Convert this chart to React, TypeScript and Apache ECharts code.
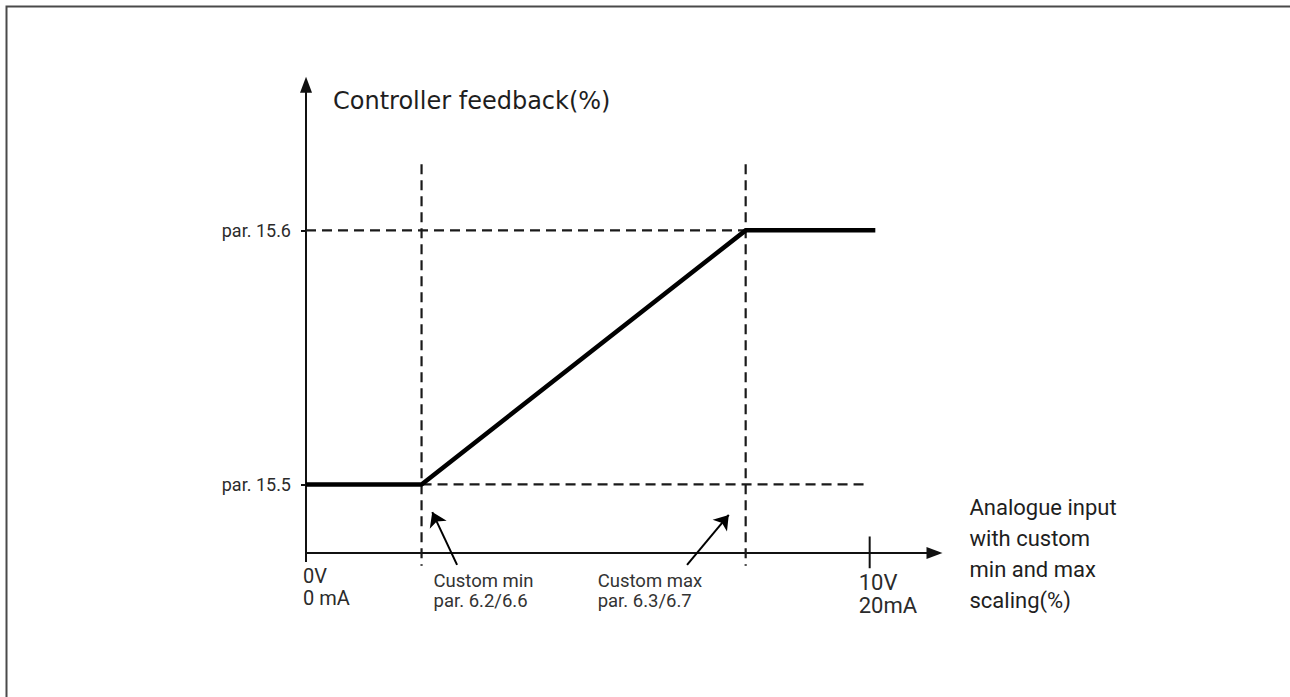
import React, { useEffect, useRef } from "react";
import * as echarts from "echarts";

// Axis ranges (abstract units: x = % of input range, y = % between par. 15.5 and par. 15.6)
const X_MIN = 0;
const X_MAX = 111.5;
const Y_MIN = -27;
const Y_MAX = 157.3;

// Key points
const customMin = 20.5;
const customMax = 78;
const fullScale = 100;
const lowLevel = 0;
const highLevel = 100;

// Feedback curve
const curveX = [0, customMin, customMax, 101];
const curveY = [lowLevel, lowLevel, highLevel, highLevel];

// Guides
const guideTop = 126;
const guideBottom = -32;
const lowGuideEnd = 99;

// Tick values & labels
const yTickValues = [lowLevel, highLevel];
const yTickLabels = ["par. 15.5", "par. 15.6"];
const xTickValues = [0, fullScale];
const xTickLabels = [
  ["0V", "0 mA"],
  ["10V", "20mA"],
];

// Annotation arrows [tail, tip]
const minArrow = [
  [26.8, -31.7],
  [22.4, -10.9],
];
const maxArrow = [
  [67.6, -31.7],
  [75.0, -12.0],
];

const yTitle = "Controller feedback(%)";
const xTitle = ["Analogue input", "with custom", "min and max", "scaling(%)"];
const minNote = ["Custom min", "par. 6.2/6.6"];
const maxNote = ["Custom max", "par. 6.3/6.7"];

const FONT = "Roboto, 'Noto Sans', sans-serif";
const TITLE_FONT = "'DejaVu Sans', Roboto, sans-serif";

export default function App() {
  const ref = useRef<HTMLDivElement>(null);

  useEffect(() => {
    const chart = echarts.init(ref.current!, null, { renderer: "svg" });
    const axisColor = "#111111";
    const dashColor = "#1a1a1a";

    const seg = (name: string, pts: number[][], style: any, z = 2) => ({
      type: "line",
      name,
      data: pts,
      symbol: "none",
      clip: false,
      silent: true,
      z,
      lineStyle: style,
    });

    const dashStyle = { color: dashColor, width: 2.2, type: [10, 6] };
    const tickStyle = { color: axisColor, width: 2 };

    const option: any = {
      animation: false,
      backgroundColor: "#ffffff",
      grid: { left: 306, top: 84.8, width: 628.5, height: 468.2 },
      xAxis: {
        type: "value",
        min: X_MIN,
        max: X_MAX,
        axisLine: {
          onZero: false,
          symbol: ["none", "triangle"],
          symbolSize: [12, 16],
          lineStyle: { color: axisColor, width: 2 },
        },
        axisTick: { show: false },
        axisLabel: { show: false },
        splitLine: { show: false },
      },
      yAxis: {
        type: "value",
        min: Y_MIN,
        max: Y_MAX,
        axisLine: {
          onZero: false,
          symbol: ["none", "triangle"],
          symbolSize: [12, 16],
          lineStyle: { color: axisColor, width: 2 },
        },
        axisTick: {
          show: true,
          customValues: yTickValues,
          length: 5,
          lineStyle: tickStyle,
        },
        axisLabel: {
          show: true,
          customValues: yTickValues,
          formatter: (v: number) => yTickLabels[yTickValues.indexOf(v)] ?? "",
          margin: 15,
          fontSize: 18,
          color: "#2b2b2b",
          fontFamily: FONT,
        },
        splitLine: { show: false },
      },
      series: [
        seg("minGuide", [[customMin, guideTop], [customMin, guideBottom]], dashStyle),
        seg("maxGuide", [[customMax, guideTop], [customMax, guideBottom]], dashStyle),
        seg("highGuide", [[0, highLevel], [customMax, highLevel]], dashStyle),
        seg("lowGuide", [[customMin, lowLevel], [lowGuideEnd, lowLevel]], dashStyle),
        seg("originTickV", [[xTickValues[0], Y_MIN], [xTickValues[0], Y_MIN - 3.5]], tickStyle),
        seg("originTickH", [[X_MIN - 0.7, Y_MIN], [X_MIN, Y_MIN]], tickStyle),
        seg("fullTick", [[xTickValues[1], Y_MIN + 6.5], [xTickValues[1], Y_MIN - 6]], tickStyle),
        seg(
          "curve",
          curveX.map((x, i) => [x, curveY[i]]),
          { color: "#000000", width: 4.5, join: "round", cap: "butt" },
          5
        ),
        {
          type: "lines",
          coordinateSystem: "cartesian2d",
          silent: true,
          clip: false,
          z: 4,
          symbol: ["none", "arrow"],
          symbolSize: [10, 14],
          lineStyle: { color: "#000000", width: 2, curveness: 0, opacity: 1 },
          data: [{ coords: minArrow }, { coords: maxArrow }],
        },
      ],
    };

    chart.setOption(option);

    const px = (x: number, y: number) =>
      chart.convertToPixel({ gridIndex: 0 }, [x, y]) as number[];

    const txt = (
      lines: string[],
      left: number,
      firstCenter: number,
      lineGap: number,
      size: number,
      color: string,
      family = FONT
    ) =>
      lines.map((t, i) => ({
        type: "text",
        x: left,
        y: firstCenter + i * lineGap,
        silent: true,
        style: {
          text: t,
          fill: color,
          font: `${size}px ${family}`,
          verticalAlign: "middle",
          align: "left",
        },
      }));

    const origin = px(X_MIN, Y_MIN);
    const right = px(X_MAX, Y_MIN);
    const minP = px(customMin, Y_MIN);
    const maxP = px(customMax, Y_MIN);
    const fullP = px(xTickValues[1], Y_MIN);
    const topP = px(X_MIN, Y_MAX);

    const graphic: any[] = [
      {
        type: "rect",
        silent: true,
        shape: { x: 6.5, y: 6.5, width: 1400, height: 800 },
        style: { fill: "none", stroke: "#4a4a4a", lineWidth: 2 },
        z: 100,
      },
      ...txt([yTitle], topP[0] + 27, topP[1] + 16, 0, 24, "#1e1e1e", TITLE_FONT),
      ...txt(xTitle, right[0] + 35, origin[1] - 46, 31, 22, "#1e1e1e"),
      ...txt(xTickLabels[0], origin[0] - 3, origin[1] + 23, 22, 20, "#2b2b2b"),
      ...txt(xTickLabels[1], fullP[0] - 11, origin[1] + 29, 23, 22, "#2b2b2b"),
      ...txt(minNote, minP[0] + 12, origin[1] + 28, 20, 18.5, "#333333"),
      ...txt(maxNote, maxP[0] - 148, origin[1] + 28, 20, 18.5, "#333333"),
    ];

    chart.setOption({ graphic });

    return () => chart.dispose();
  }, []);

  return (
    <div
      ref={ref}
      style={{ position: "fixed", left: 0, top: 0, width: 1290, height: 697, background: "#fff" }}
    />
  );
}
